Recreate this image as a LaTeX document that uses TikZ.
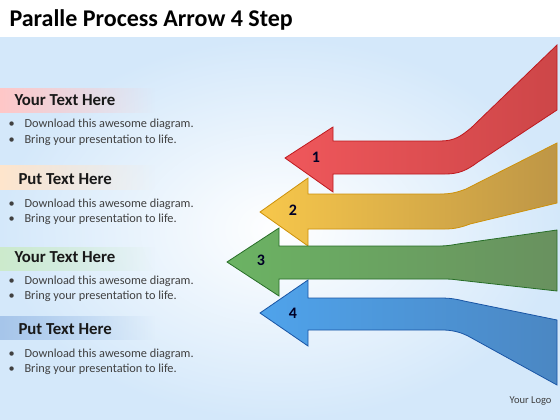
\documentclass[tikz,border=0pt]{standalone}
\usepackage{fontspec}
\setmainfont{Carlito}
\usetikzlibrary{fadings}
\definecolor{redA}{RGB}{235,45,50}\definecolor{redB}{RGB}{205,70,72}\definecolor{redE}{RGB}{190,25,30}
\definecolor{yelA}{RGB}{245,185,30}\definecolor{yelB}{RGB}{190,150,70}\definecolor{yelE}{RGB}{205,145,10}
\definecolor{grnA}{RGB}{70,160,60}\definecolor{grnB}{RGB}{105,145,95}\definecolor{grnE}{RGB}{40,110,40}
\definecolor{bluA}{RGB}{35,140,230}\definecolor{bluB}{RGB}{75,135,195}\definecolor{bluE}{RGB}{25,85,165}
\definecolor{bgblue}{RGB}{212,232,250}
\tikzset{
  heading/.style={anchor=base west,font=\fontsize{16.8}{18}\selectfont\bfseries,text=black!90},
  bulletline/.style={anchor=base west,font=\fontsize{12.3}{14}\selectfont,text=black!75},
  stepnum/.style={font=\fontsize{16}{18}\selectfont\bfseries,text=black!85!blue},
  band/.style={path fading=east}
}
\begin{document}
\begin{tikzpicture}[x=1pt,y=-1pt]
    \useasboundingbox (0,0) rectangle (560,420);
    \fill[white] (0,0) rectangle (560,420);
    \shade[inner color=white,outer color=bgblue] (0,38) rectangle (560,420);
    \node[anchor=base west,font=\fontsize{24}{28}\selectfont\bfseries] (title) at (6,27) {Paralle Process Arrow 4 Step};
    %% text blocks on the left
    \fill[band,red!22] (0,88) rectangle (155,113);
    \node[heading] (h1) at (11,106) {Your Text Here};
    \node[bulletline] at (5,128) {•}; \node[bulletline] (b1a) at (21,128) {Download this awesome diagram.};
    \node[bulletline] at (5,143) {•}; \node[bulletline] (b1b) at (21,143) {Bring your presentation to life.};
    \fill[band,orange!20] (0,165) rectangle (155,190);
    \node[heading] (h2) at (15,184) {Put Text Here};
    \node[bulletline] at (5,207) {•}; \node[bulletline] (b2a) at (21,207) {Download this awesome diagram.};
    \node[bulletline] at (5,222) {•}; \node[bulletline] (b2b) at (21,222) {Bring your presentation to life.};
    \fill[band,green!60!black!20] (0,247) rectangle (155,271);
    \node[heading] (h3) at (11,262) {Your Text Here};
    \node[bulletline] at (5,284) {•}; \node[bulletline] (b3a) at (21,284) {Download this awesome diagram.};
    \node[bulletline] at (5,299) {•}; \node[bulletline] (b3b) at (21,299) {Bring your presentation to life.};
    \fill[band,cyan!60!blue!35] (0,316) rectangle (155,340);
    \node[heading] (h4) at (15,334) {Put Text Here};
    \node[bulletline] at (5,357) {•}; \node[bulletline] (b4a) at (21,357) {Download this awesome diagram.};
    \node[bulletline] at (5,372) {•}; \node[bulletline] (b4b) at (21,372) {Bring your presentation to life.};
    %% arrows
    % red
    \shadedraw[draw=redE,line width=0.8pt,left color=redA!80!white,right color=redB]
      (285,158) -- (333,127) -- (333,141) -- (440,141)
      .. controls (455,141) and (461,136) .. (471,128) -- (557,45) -- (557,110) -- (478,162)
      .. controls (466,171) and (458,174) .. (445,174) -- (333,174) -- (333,192) -- cycle;
    % yellow
    \shadedraw[draw=yelE,line width=0.8pt,left color=yelA!80!white,right color=yelB]
      (260,212) -- (308,178) -- (308,194) -- (440,194)
      .. controls (452,194) and (458,192) .. (466,189) -- (557,143) -- (557,203) -- (470,224)
      .. controls (462,227) and (455,229) .. (445,229) -- (308,229) -- (308,246) -- cycle;
    % green
    \shadedraw[draw=grnE,line width=0.8pt,left color=grnA!80!white,right color=grnB]
      (227,262) -- (279,228) -- (279,246) -- (440,246)
      .. controls (447,246) and (452,245) .. (458,244) -- (557,230) -- (557,291) -- (458,280)
      .. controls (452,279) and (447,279) .. (440,279) -- (279,279) -- (279,296) -- cycle;
    % blue
    \shadedraw[draw=bluE,line width=0.8pt,left color=bluA!80!white,right color=bluB]
      (260,313) -- (308,280) -- (308,298) -- (440,298)
      .. controls (450,298) and (456,299) .. (464,301) -- (557,320) -- (557,385) -- (468,336)
      .. controls (460,332) and (452,330) .. (442,330) -- (308,330) -- (308,346) -- cycle;
    %% step numbers
    \node[stepnum] (n1) at (316,157) {1};
    \node[stepnum] (n2) at (293,210) {2};
    \node[stepnum] (n3) at (261,260) {3};
    \node[stepnum] (n4) at (293,313) {4};
    \node[anchor=base east,font=\fontsize{10.5}{12}\selectfont,text=black!75] (logo) at (555,403) {Your Logo};
\end{tikzpicture}
\end{document}
